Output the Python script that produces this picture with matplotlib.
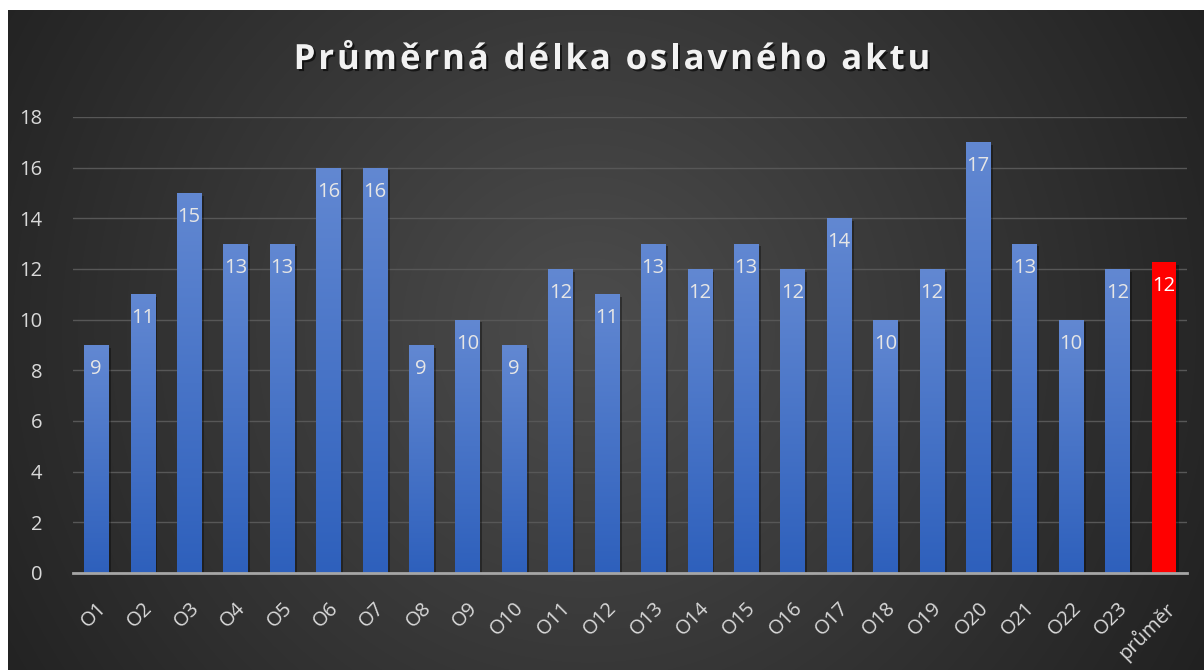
import matplotlib
matplotlib.use("Agg")
import matplotlib.pyplot as plt
import matplotlib.patheffects as pe
import numpy as np

categories = ["O1", "O2", "O3", "O4", "O5", "O6", "O7", "O8", "O9", "O10",
              "O11", "O12", "O13", "O14", "O15", "O16", "O17", "O18", "O19",
              "O20", "O21", "O22", "O23", "průměr"]
values = [9, 11, 15, 13, 13, 16, 16, 9, 10, 9, 12, 11, 13, 12, 13, 12, 14,
          10, 12, 17, 13, 10, 12, 12.26]
y_ticks = [0, 2, 4, 6, 8, 10, 12, 14, 16, 18]
title = "Průměrná délka oslavného aktu"

plt.rcParams['font.family'] = ['Open Sans', 'DejaVu Sans']

W, H = 1204, 670
fig = plt.figure(figsize=(W / 100, H / 100), dpi=100)
fig.patch.set_facecolor("white")

# dark radial background (white strip left/top like the screenshot)
bg = fig.add_axes([8 / W, 0, 1 - 8 / W, 1 - 10 / H])
bg.set_axis_off()
yy, xx = np.mgrid[0:660, 0:1196]
r = np.sqrt((xx - 580) ** 2 + (yy - 320) ** 2)
r = r / r.max()
shade = 0.30 - 0.17 * r
bg.imshow(np.dstack([shade, shade, shade]), aspect="auto", extent=[0, 1, 0, 1])
bg.set_xlim(0, 1)
bg.set_ylim(0, 1)

ax = fig.add_axes([73 / W, 1 - 573 / H, (1187 - 73) / W, (573 - 117) / H])
ax.set_facecolor("none")
x = np.arange(len(categories))
colors = ["#4472c4"] * (len(categories) - 1) + ["#ff0000"]
bars = ax.bar(x, values, width=0.52, color=colors, zorder=3,
              path_effects=[pe.SimplePatchShadow(offset=(2, -2), shadow_rgbFace="black", alpha=0.35),
                            pe.Normal()])

# vertical gradient on the blue bars
grad = np.linspace(0, 1, 256).reshape(-1, 1)
top = np.array([0x62, 0x88, 0xd2]) / 255
bot = np.array([0x2e, 0x60, 0xbc]) / 255
img = top[None, None, :] * (1 - grad[:, :, None]) + bot[None, None, :] * grad[:, :, None]
for b, v in zip(bars[:-1], values[:-1]):
    im = ax.imshow(img, extent=[b.get_x(), b.get_x() + b.get_width(), 0, v],
                   aspect="auto", zorder=4)
    im.set_clip_path(b)

for b, v in zip(bars, values):
    ax.text(b.get_x() + b.get_width() / 2, v - 0.55, f"{v:.0f}", ha="center", va="top",
            color="#e6e6e6" if v != values[-1] else "white", fontsize=14.5, zorder=5)

ax.set_xlim(-0.5, len(categories) - 0.5)
ax.set_ylim(0, 18)
ax.set_yticks(y_ticks)
ax.set_xticks(x)
ax.set_xticklabels(categories, rotation=45, ha="right", rotation_mode="anchor")
ax.tick_params(axis="both", length=0, colors="#d9d9d9", labelsize=14.5)
ax.tick_params(axis="y", pad=22)
ax.tick_params(axis="x", pad=18)
ax.grid(axis="y", color="#575757", linewidth=1, zorder=0)
for s in ["top", "right", "left"]:
    ax.spines[s].set_visible(False)
ax.spines["bottom"].set_color("#a6a6a6")
ax.spines["bottom"].set_linewidth(2)
ax.spines["bottom"].set_zorder(6)

# title with letter spacing, placed char by char
renderer = fig.canvas.get_renderer()
spacing = 2.9
shadow = [pe.withSimplePatchShadow(offset=(1.5, -1.5), shadow_rgbFace="black", alpha=0.6)]
pieces = []
for ch in title:
    t = fig.text(0, 1 - 60 / H, ch, ha="left", va="center", color="#f2f2f2",
                 fontsize=25, fontweight="bold", path_effects=shadow)
    pieces.append(t)
widths = []
for t in pieces:
    ext = t.get_window_extent(renderer)
    widths.append(ext.width if t.get_text() != " " else 9)
total = sum(widths) + spacing * (len(pieces) - 1)
cur = 612 - total / 2
for t, w in zip(pieces, widths):
    t.set_x(cur / W)
    cur += w + spacing

fig.savefig("out.png", dpi=100, facecolor=fig.get_facecolor())
